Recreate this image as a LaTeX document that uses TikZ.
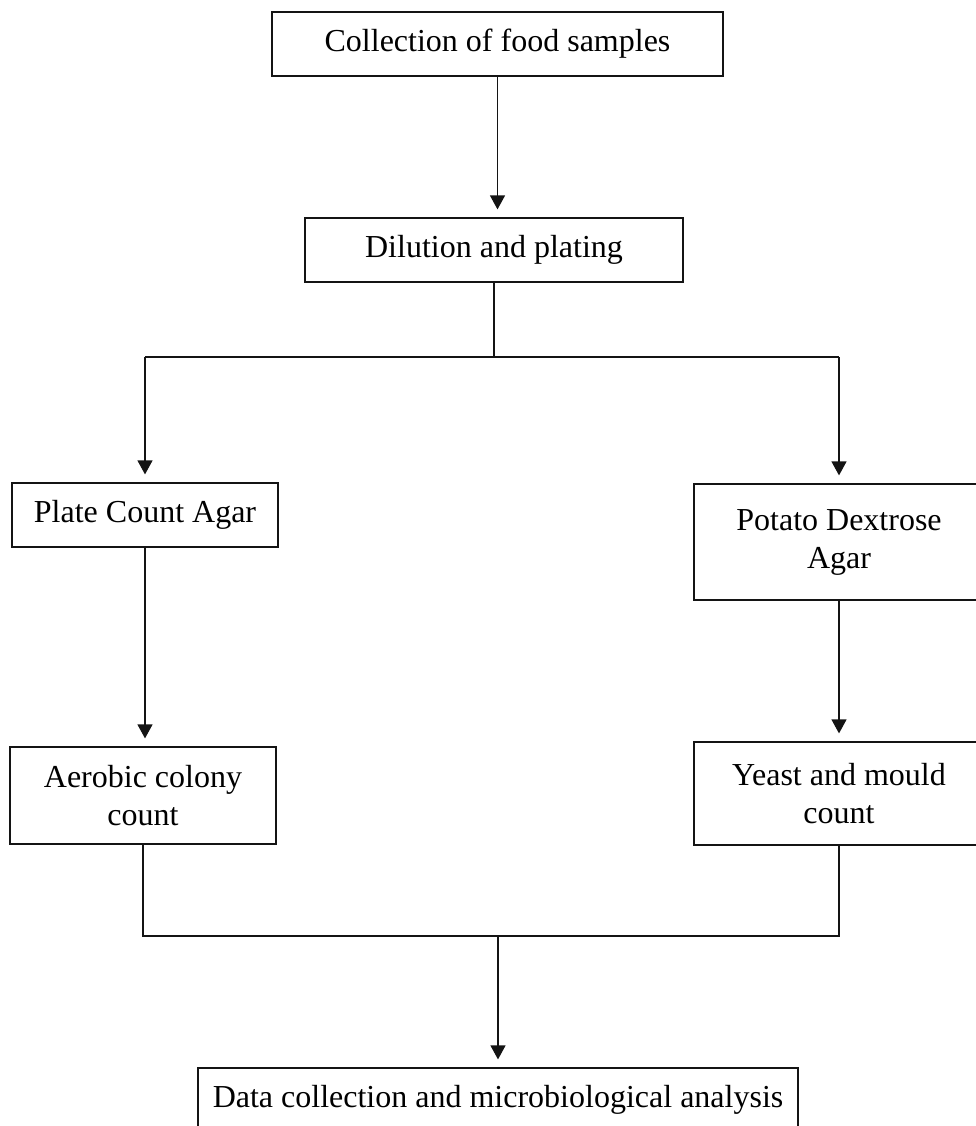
\documentclass[tikz,border=0pt]{standalone}
\usepackage{fontspec}
\setmainfont{Liberation Serif}
\usepackage{xcolor}
\usepackage{tikz}
\usetikzlibrary{arrows.meta}
\definecolor{figline}{RGB}{20,20,20}
\tikzset{
  box/.style ={draw=figline, line width=1.2pt, inner sep=0pt, align=center, font=\fontsize{32}{38}\selectfont},
  ln/.style  ={draw=figline, line width=1.2pt},
  ptr/.style ={draw=figline, line width=1.2pt, -{Triangle[length=14pt,width=15pt]}, shorten >=8pt},
}
\begin{document}
\begin{tikzpicture}[x=1pt,y=-1pt]
  \useasboundingbox (0,0) rectangle (976,1126);
  \node[box,minimum width=451pt,minimum height=64pt] (collect) at (497.5,44) {Collection of food samples};
  \node[box,minimum width=378pt,minimum height=64pt] (dilute) at (494,250) {Dilution and plating};
  \node[box,minimum width=266pt,minimum height=64pt] (pca) at (145,515) {Plate Count Agar};
  \node[box,minimum width=290pt,minimum height=116pt] (pda) at (839,542) {Potato Dextrose\\Agar};
  \node[box,minimum width=266pt,minimum height=97pt] (aerobic) at (143,795.5) {Aerobic colony\\count};
  \node[box,minimum width=290pt,minimum height=103pt] (yeast) at (839,793.5) {Yeast and mould\\count};
  \node[box,minimum width=600pt,minimum height=64pt] (data) at (498,1100) {Data collection and microbiological analysis};
  \coordinate (fork) at (495,357);
  \coordinate (join) at (498,936);
  \draw[ptr] (collect.south) -- (collect.south |- dilute.north);
  \draw[ln] (dilute.south) -- (dilute.south |- fork);
  \draw[ln] (pca.north |- fork) -- (pda.north |- fork);
  \draw[ptr] (pca.north |- fork) -- (pca.north);
  \draw[ptr] (pda.north |- fork) -- (pda.north);
  \draw[ptr] (pca.south) -- (pca.south |- aerobic.north);
  \draw[ptr] (pda.south) -- (pda.south |- yeast.north);
  \draw[ln] (aerobic.south) -- (aerobic.south |- join) -- (yeast.south |- join) -- (yeast.south);
  \draw[ptr] (join) -- (join |- data.north);
\end{tikzpicture}
\end{document}
